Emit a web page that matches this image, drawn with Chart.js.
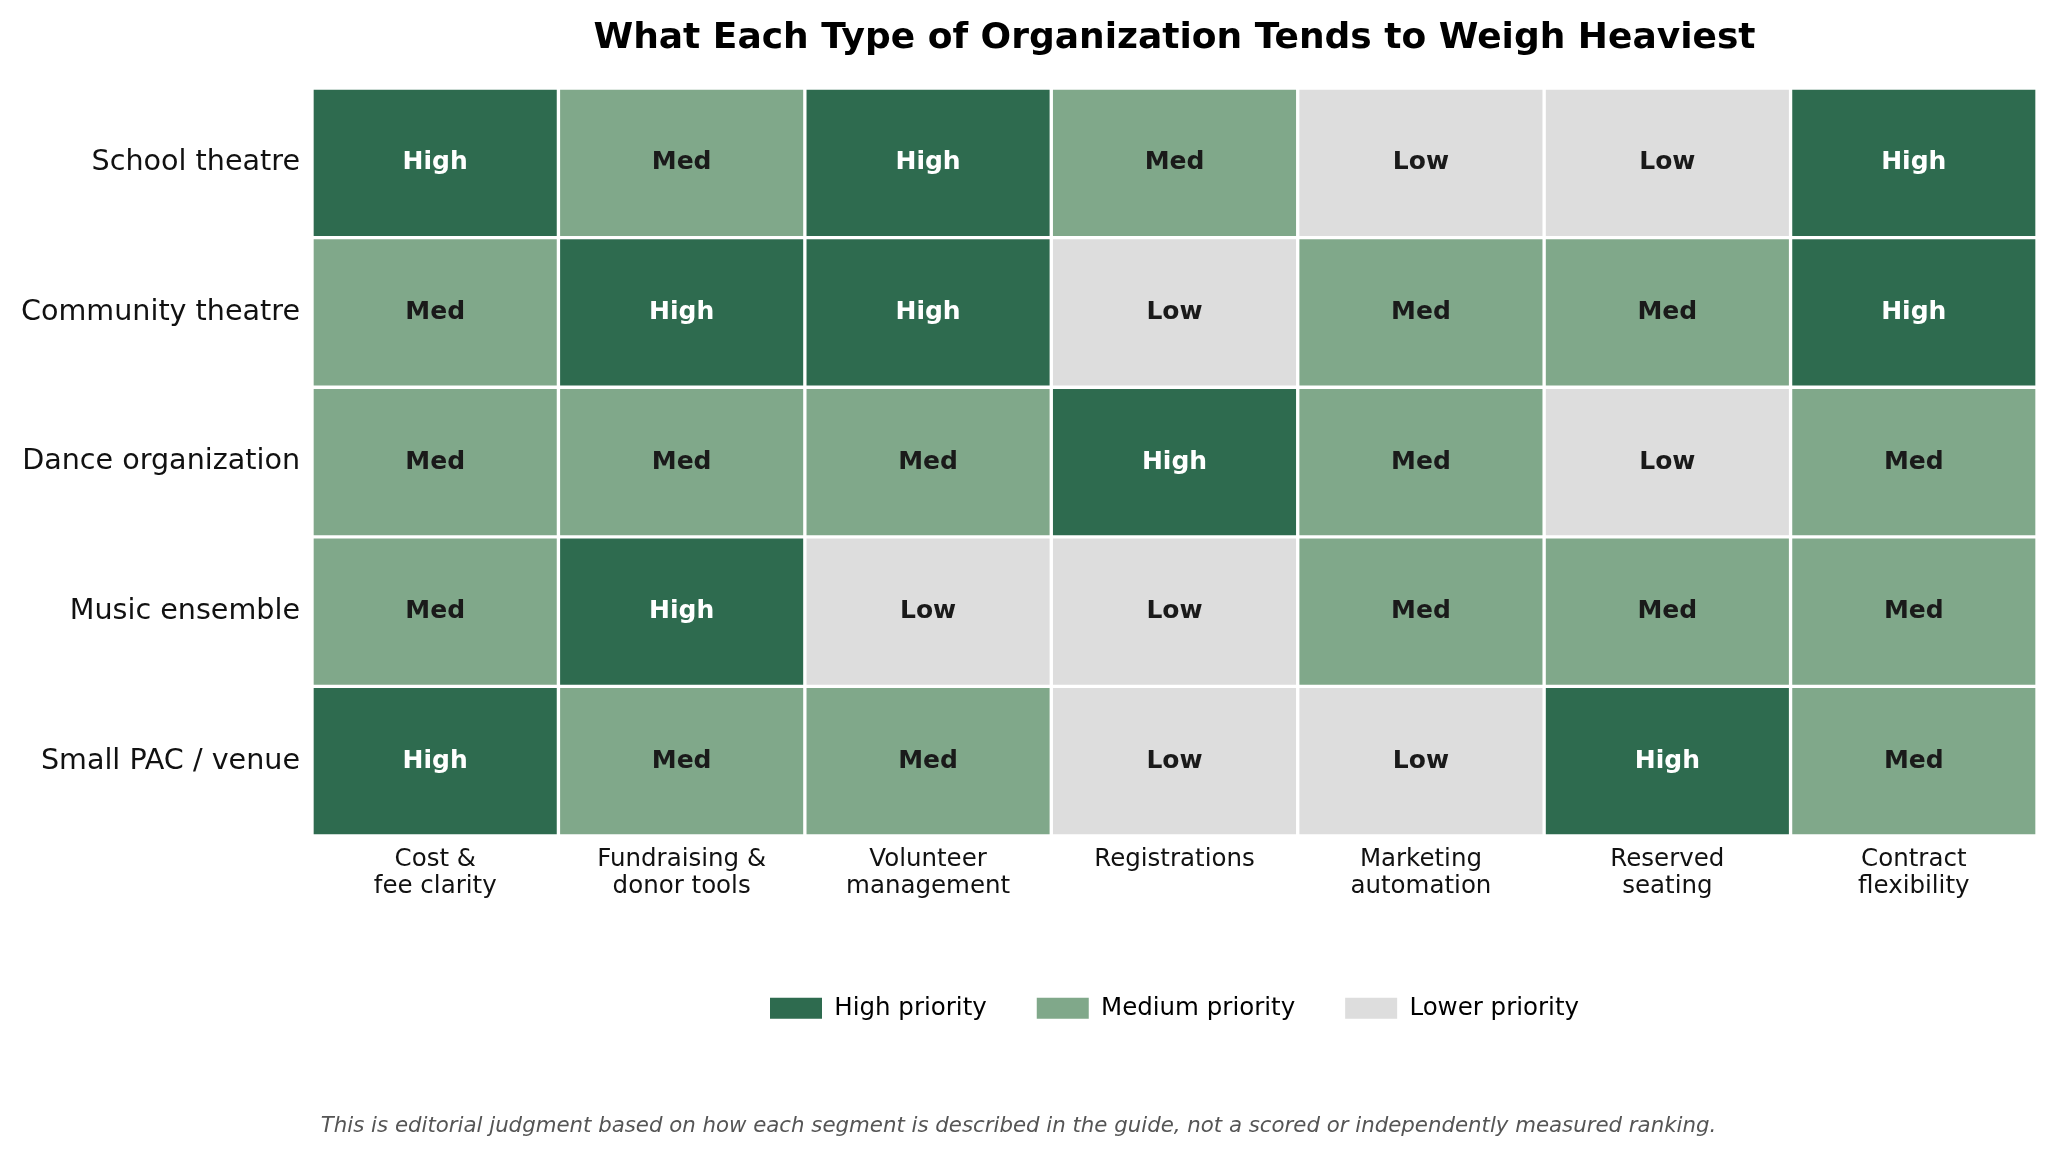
<!DOCTYPE html>
<html>
<head>
<meta charset="utf-8">
<script src="https://cdn.jsdelivr.net/npm/chart.js@4.4.0/dist/chart.umd.min.js"></script>
<style>
  body { margin: 0; background: #fff; }
  canvas { display: block; }
</style>
</head>
<body>
<canvas id="myChart" width="2046" height="1150"></canvas>
<script>
// filas y columnas del mapa
var segments = ['School theatre', 'Community theatre', 'Dance organization', 'Music ensemble', 'Small PAC / venue'];
var criteria = [
    ['Cost &', 'fee clarity'],
    ['Fundraising &', 'donor tools'],
    ['Volunteer', 'management'],
    ['Registrations'],
    ['Marketing', 'automation'],
    ['Reserved', 'seating'],
    ['Contract', 'flexibility']
];

// prioridad de cada celda, una lista por segmento
var schoolTheatre     = ['High', 'Med', 'High', 'Med', 'Low', 'Low', 'High'];
var communityTheatre  = ['Med', 'High', 'High', 'Low', 'Med', 'Med', 'High'];
var danceOrganization = ['Med', 'Med', 'Med', 'High', 'Med', 'Low', 'Med'];
var musicEnsemble     = ['Med', 'High', 'Low', 'Low', 'Med', 'Med', 'Med'];
var smallVenue        = ['High', 'Med', 'Med', 'Low', 'Low', 'High', 'Med'];
var ratings = [schoolTheatre, communityTheatre, danceOrganization, musicEnsemble, smallVenue];

var levels = ['High', 'Med', 'Low'];
var legendNames = ['High priority', 'Medium priority', 'Lower priority'];
var colors = { High: '#2e6b4f', Med: '#80a88a', Low: '#dddddd' };

var font = 'DejaVu Sans';

// una serie por columna, cada celda ocupa una unidad
var datasets = criteria.map(function (c, col) {
    return {
        label: c.join(' '),
        data: ratings.map(function () { return 1; }),
        backgroundColor: ratings.map(function (r) { return colors[r[col]]; }),
        borderColor: '#ffffff',
        borderWidth: 2,
        borderSkipped: false,
        barPercentage: 1,
        categoryPercentage: 1
    };
});

// texto dentro de cada celda
var cellText = {
    id: 'cellText',
    afterDatasetsDraw: function (chart) {
        var ctx = chart.ctx;
        ctx.save();
        ctx.font = 'bold 25px "' + font + '"';
        ctx.textAlign = 'center';
        ctx.textBaseline = 'middle';
        chart.data.datasets.forEach(function (ds, col) {
            chart.getDatasetMeta(col).data.forEach(function (el, row) {
                var v = ratings[row][col];
                var p = el.getCenterPoint();
                ctx.fillStyle = v === 'High' ? '#ffffff' : '#1a1a1a';
                ctx.fillText(v, p.x, p.y);
            });
        });
        ctx.restore();
    }
};

var ctx = document.getElementById('myChart').getContext('2d');
var chart = new Chart(ctx, {
    type: 'bar',
    data: {
        labels: segments,
        datasets: datasets
    },
    plugins: [cellText],
    options: {
        indexAxis: 'y',
        responsive: false,
        animation: false,
        devicePixelRatio: 1,
        layout: { padding: { left: 0, right: 9, top: 0, bottom: 0 } },
        scales: {
            x: {
                type: 'linear',
                stacked: true,
                min: 0,
                max: criteria.length,
                grid: { display: false, drawTicks: false },
                border: { display: false },
                afterBuildTicks: function (scale) {
                    scale.ticks = criteria.map(function (c, i) { return { value: i + 0.5 }; });
                },
                afterFit: function (scale) { scale.height = 110; },
                ticks: {
                    autoSkip: false,
                    maxRotation: 0,
                    padding: 10,
                    color: '#111111',
                    font: { family: font, size: 24.5, lineHeight: 1.1 },
                    callback: function (value, index) { return criteria[index]; }
                }
            },
            y: {
                stacked: true,
                grid: { display: false, drawTicks: false },
                border: { display: false },
                afterFit: function (scale) { scale.width = 312; },
                ticks: {
                    padding: 12,
                    color: '#111111',
                    font: { family: font, size: 28.6 }
                }
            }
        },
        plugins: {
            title: {
                display: true,
                fullSize: false,
                text: 'What Each Type of Organization Tends to Weigh Heaviest',
                color: '#000000',
                font: { family: font, size: 36, weight: 'bold' },
                padding: { top: 17, bottom: 27.8 }
            },
            subtitle: {
                display: true,
                position: 'bottom',
                text: 'This is editorial judgment based on how each segment is described in the guide, not a scored or independently measured ranking.',
                color: '#555555',
                font: { family: font, size: 21.3, style: 'italic' },
                padding: { top: 82.7, bottom: 11.2 }
            },
            legend: {
                position: 'bottom',
                fullSize: false,
                onClick: null,
                labels: {
                    boxWidth: 52,
                    boxHeight: 21,
                    padding: 50,
                    color: '#111111',
                    font: { family: font, size: 24.5 },
                    generateLabels: function () {
                        return levels.map(function (l, i) {
                            return {
                                text: legendNames[i],
                                fillStyle: colors[l],
                                strokeStyle: colors[l],
                                lineWidth: 0,
                                hidden: false,
                                datasetIndex: i
                            };
                        });
                    }
                }
            },
            tooltip: { enabled: false }
        }
    }
});
</script>
</body>
</html>
